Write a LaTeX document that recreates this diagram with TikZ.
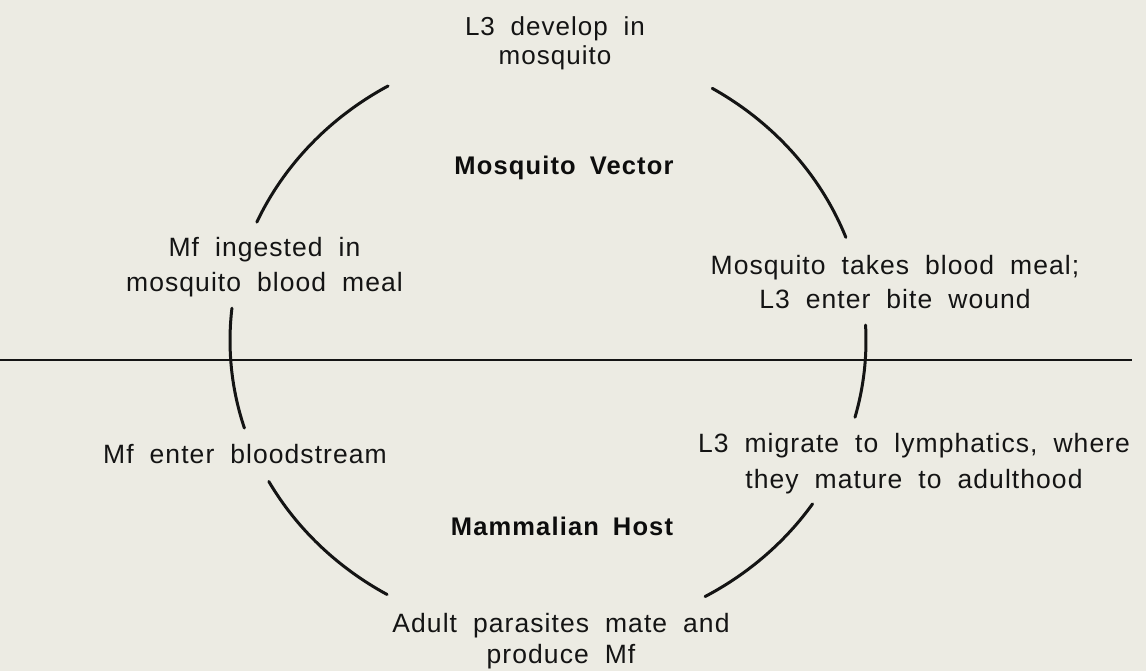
\documentclass[tikz,border=0pt]{standalone}
\usepackage{fontspec}
\setmainfont{Liberation Sans}[LetterSpace=4,WordSpace=1.9]
\newfontfamily\labelbold{Liberation Sans}[LetterSpace=4.5,WordSpace=1.7,BoldFont={* Bold}]
\begin{document}
\begin{tikzpicture}[x=1pt,y=1pt,
  cyc/.style={line width=3pt,line cap=round,black!92},
  ea/.style={x radius=318,y radius=294.5},
  divider/.style={line width=2.6pt,black!92},
  lbl/.style={anchor=base,align=center,inner sep=0pt,text=black!92,
     font=\fontsize{26.5}{34}\selectfont},
  ttl/.style={anchor=base,align=center,inner sep=0pt,text=black!95,
     font=\labelbold\bfseries\fontsize{25.5}{34}\selectfont}]
\fill[fill={rgb,255:red,236;green,235;blue,227}] (0,0) rectangle (1146,-671);
\useasboundingbox (0,0) rectangle (1146,-671);
% ellipse centre
\coordinate (C) at (548,-340.5);
% horizontal divider
\coordinate (L) at (0,-360);
\coordinate (R) at (1132,-360);
\draw[divider] (L) -- (R);
% arcs of the cycle
\draw[cyc] (C) ++(120.2:318 and 294.5) arc[start angle=120.2,end angle=156.3,ea];
\draw[cyc] (C) ++(173.7:318 and 294.5) arc[start angle=173.7,end angle=197.3,ea];
\draw[cyc] (C) ++(208.6:318 and 294.5) arc[start angle=208.6,end angle=239.6,ea];
\draw[cyc] (C) ++(299.6:318 and 294.5) arc[start angle=299.6,end angle=326.3,ea];
\draw[cyc] (C) ++(-15.1:318 and 294.5) arc[start angle=-15.1,end angle=3.0,ea];
\draw[cyc] (C) ++(20.5:318 and 294.5) arc[start angle=20.5,end angle=58.9,ea];
% labels (anchor = baseline of the last line)
\node[lbl,font=\fontsize{26}{29}\selectfont] (l3dev) at (555,-65) {L3 develop in\\mosquito};
\node[ttl] (vector) at (564,-175) {Mosquito Vector};
\node[lbl,font=\fontsize{26.5}{35}\selectfont] (ingest) at (264.5,-291) {Mf ingested in\\mosquito blood meal};
\node[lbl] (bite) at (895,-308) {Mosquito takes blood meal;\\L3 enter bite wound};
\node[lbl] (blood) at (245,-463) {Mf enter bloodstream};
\node[lbl,font=\fontsize{26.5}{36}\selectfont] (migrate) at (914,-488) {L3 migrate to lymphatics, where\\they mature to adulthood};
\node[ttl] (host) at (562,-535) {Mammalian Host};
\node[lbl,font=\fontsize{26.5}{31}\selectfont] (mate) at (561,-663) {Adult parasites mate and\\produce Mf};
\end{tikzpicture}
\end{document}
